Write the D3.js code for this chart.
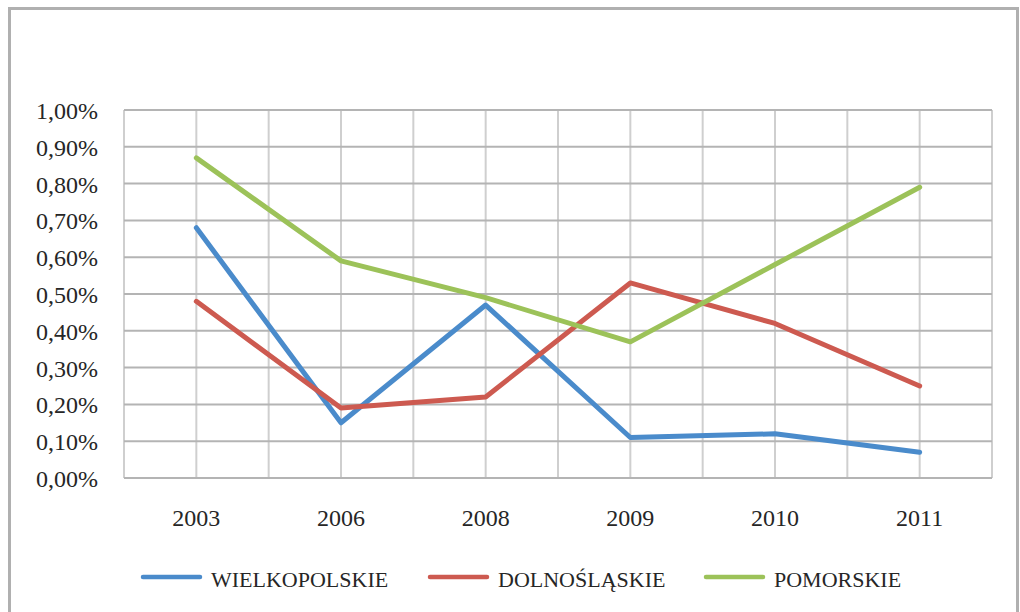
<!DOCTYPE html>
<html>
<head>
<meta charset="utf-8">
<script src="https://cdn.jsdelivr.net/npm/d3@7"></script>
<style>
  body { margin: 0; background: #fff; }
  text { font-family: "Liberation Serif", "DejaVu Serif", serif; fill: #262626; }
</style>
</head>
<body>
<div id="chart"></div>
<script>
const years = ["2003", "2006", "2008", "2009", "2010", "2011"];
const wielkopolskie = [0.68, 0.15, 0.47, 0.11, 0.12, 0.07];
const dolnoslaskie = [0.48, 0.19, 0.22, 0.53, 0.42, 0.25];
const pomorskie = [0.87, 0.59, 0.49, 0.37, 0.58, 0.79];
const yTicks = [0, 0.1, 0.2, 0.3, 0.4, 0.5, 0.6, 0.7, 0.8, 0.9, 1.0];

const series = [
  { name: "WIELKOPOLSKIE", values: wielkopolskie, color: "#4a8bcb" },
  { name: "DOLNOŚLĄSKIE", values: dolnoslaskie, color: "#cd5a50" },
  { name: "POMORSKIE", values: pomorskie, color: "#9cc259" }
];

const W = 1020, H = 612;
const plot = { left: 124, right: 992, top: 110, bottom: 478 };

const svg = d3.select("#chart")
  .append("svg")
  .attr("width", W)
  .attr("height", H);

// outer chart frame
svg.append("rect")
  .attr("x", 9.5)
  .attr("y", 8.5)
  .attr("width", 1008)
  .attr("height", 620)
  .attr("fill", "none")
  .attr("stroke", "#b0b0b0")
  .attr("stroke-width", 3);

const x = d3.scaleBand()
  .domain(years)
  .range([plot.left, plot.right]);

const y = d3.scaleLinear()
  .domain([0, 1])
  .range([plot.bottom, plot.top]);

// vertical gridlines: band edges and centers
const vLines = [];
years.forEach(d => {
  vLines.push(x(d));
  vLines.push(x(d) + x.bandwidth() / 2);
});
vLines.push(plot.right);

svg.append("g")
  .selectAll("line")
  .data(vLines)
  .join("line")
  .attr("x1", d => d)
  .attr("x2", d => d)
  .attr("y1", plot.top)
  .attr("y2", plot.bottom)
  .attr("stroke", "#cfcfcf")
  .attr("stroke-width", 2);

// horizontal gridlines
svg.append("g")
  .selectAll("line")
  .data(yTicks)
  .join("line")
  .attr("x1", plot.left)
  .attr("x2", plot.right)
  .attr("y1", d => y(d))
  .attr("y2", d => y(d))
  .attr("stroke", "#b4b4b4")
  .attr("stroke-width", 2);

// y axis labels
const fmt = d => d.toFixed(2).replace(".", ",") + "%";
svg.append("g")
  .selectAll("text")
  .data(yTicks)
  .join("text")
  .attr("x", 98)
  .attr("y", d => y(d) + 9)
  .attr("text-anchor", "end")
  .attr("font-size", 24)
  .text(fmt);

// x axis labels
svg.append("g")
  .selectAll("text")
  .data(years)
  .join("text")
  .attr("x", d => x(d) + x.bandwidth() / 2)
  .attr("y", 526)
  .attr("text-anchor", "middle")
  .attr("font-size", 24)
  .text(d => d);

// lines
const line = d3.line()
  .x((d, i) => x(years[i]) + x.bandwidth() / 2)
  .y(d => y(d));

svg.append("g")
  .selectAll("path")
  .data(series)
  .join("path")
  .attr("d", d => line(d.values))
  .attr("fill", "none")
  .attr("stroke", d => d.color)
  .attr("stroke-width", 5)
  .attr("stroke-linejoin", "round")
  .attr("stroke-linecap", "round");

// legend
const legendX = [143, 430, 706];
const legend = svg.append("g")
  .selectAll("g")
  .data(series)
  .join("g")
  .attr("transform", (d, i) => `translate(${legendX[i]},577)`);

legend.append("line")
  .attr("x1", 0)
  .attr("x2", 57)
  .attr("stroke", d => d.color)
  .attr("stroke-width", 4.5)
  .attr("stroke-linecap", "round");

legend.append("text")
  .attr("x", 68)
  .attr("y", 10)
  .attr("font-size", 22)
  .text(d => d.name);
</script>
</body>
</html>
